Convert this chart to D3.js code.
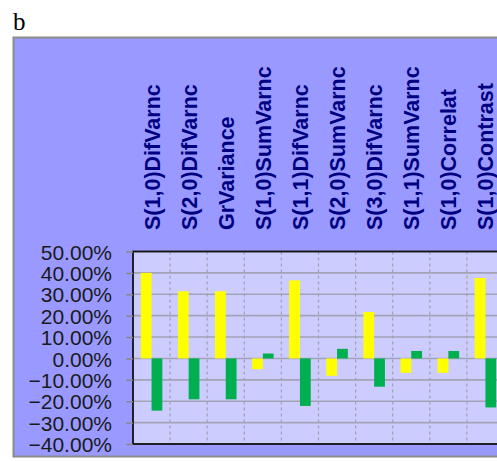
<!DOCTYPE html>
<html>
<head>
<meta charset="utf-8">
<script src="https://cdn.jsdelivr.net/npm/d3@7"></script>
<style>
  html, body { margin: 0; padding: 0; overflow: hidden; background: #fff; }
  svg { display: block; }
</style>
</head>
<body>
<script>
const categories = ["S(1,0)DifVarnc","S(2,0)DifVarnc","GrVariance","S(1,0)SumVarnc","S(1,1)DifVarnc","S(2,0)SumVarnc","S(3,0)DifVarnc","S(1,1)SumVarnc","S(1,0)Correlat","S(1,0)Contrast"];
const seriesNames = ["yellow", "green"];
const yellowValues = [40.0, 31.4, 31.4, -5.0, 36.5, -8.1, 21.7, -6.7, -6.7, 37.6];
const greenValues = [-24.4, -19.1, -19.1, 2.3, -22.2, 4.5, -13.2, 3.5, 3.5, -22.9];
const yTicks = [50, 40, 30, 20, 10, 0, -10, -20, -30, -40];

const W = 497, H = 461;
const svg = d3.select("body").append("svg").attr("width", W).attr("height", H);

// panel label
svg.append("text").attr("x", 13).attr("y", 30)
  .attr("font-family", "'Liberation Serif', 'Times New Roman', serif")
  .attr("font-size", 25).attr("fill", "#000").text("b");

// outer box
svg.append("rect").attr("x", 13.5).attr("y", 37.5).attr("width", 520).attr("height", 419)
  .attr("fill", "#9999ff").attr("stroke", "#8a8a8a").attr("stroke-width", 2);

const plot = { left: 133, top: 251.5, bottom: 444, right: 504 };

const x = d3.scaleBand().domain(categories).range([plot.left, plot.right]).paddingInner(0).paddingOuter(0);
const xs = d3.scaleBand().domain(seriesNames).range([0, x.bandwidth()]).paddingInner(0).paddingOuter(0.72);
const y = d3.scaleLinear().domain([-40, 50]).range([plot.bottom, plot.top]);

// plot background
svg.append("rect").attr("x", plot.left).attr("y", plot.top)
  .attr("width", plot.right - plot.left).attr("height", plot.bottom - plot.top)
  .attr("fill", "#ccccff");

// horizontal gridlines
svg.append("g").selectAll("line").data(yTicks).join("line")
  .attr("x1", plot.left).attr("x2", plot.right)
  .attr("y1", d => y(d)).attr("y2", d => y(d))
  .attr("stroke", "#a3a3b8").attr("stroke-width", 1.6);

// vertical dashed gridlines
svg.append("g").selectAll("line").data(categories.slice(1)).join("line")
  .attr("x1", d => x(d)).attr("x2", d => x(d))
  .attr("y1", plot.top).attr("y2", plot.bottom)
  .attr("stroke", "#a0a0b0").attr("stroke-width", 1.2).attr("stroke-dasharray", "3,3");

// bars
const data = categories.map((c, i) => ({ c, vals: [
  { s: "yellow", v: yellowValues[i] }, { s: "green", v: greenValues[i] } ] }));
const colors = { yellow: "#ffff00", green: "#00b050" };
const g = svg.append("g").selectAll("g").data(data).join("g")
  .attr("transform", d => `translate(${x(d.c)},0)`);
g.selectAll("rect").data(d => d.vals).join("rect")
  .attr("x", d => xs(d.s)).attr("width", xs.bandwidth())
  .attr("y", d => Math.min(y(d.v), y(0)))
  .attr("height", d => Math.abs(y(d.v) - y(0)))
  .attr("fill", d => colors[d.s]);

// plot border
svg.append("rect").attr("x", plot.left).attr("y", plot.top)
  .attr("width", plot.right - plot.left).attr("height", plot.bottom - plot.top)
  .attr("fill", "none").attr("stroke", "#111").attr("stroke-width", 1.8);

// y axis
const yAxis = d3.axisLeft(y).tickValues(yTicks).tickSize(7).tickPadding(14)
  .tickFormat(d => d3.format(".2f")(d) + "%");
const ya = svg.append("g").attr("transform", `translate(${plot.left},0)`).call(yAxis);
ya.select(".domain").remove();
ya.selectAll(".tick line").attr("stroke", "#888").attr("stroke-width", 1.5);
ya.selectAll(".tick text")
  .attr("font-family", "'Liberation Sans', Arial, sans-serif")
  .attr("font-size", 21).attr("fill", "#1a1a1a").attr("dy", "0.36em");

// category labels (rotated)
svg.append("g").selectAll("text").data(categories).join("text")
  .attr("transform", d => `translate(${x(d) + x.bandwidth() / 2 + 8},230) rotate(-90)`)
  .attr("text-anchor", "start")
  .attr("font-family", "'Liberation Sans', Arial, sans-serif")
  .attr("font-weight", "bold").attr("font-size", 21.5)
  .attr("fill", "#000080").text(d => d);
</script>
</body>
</html>
